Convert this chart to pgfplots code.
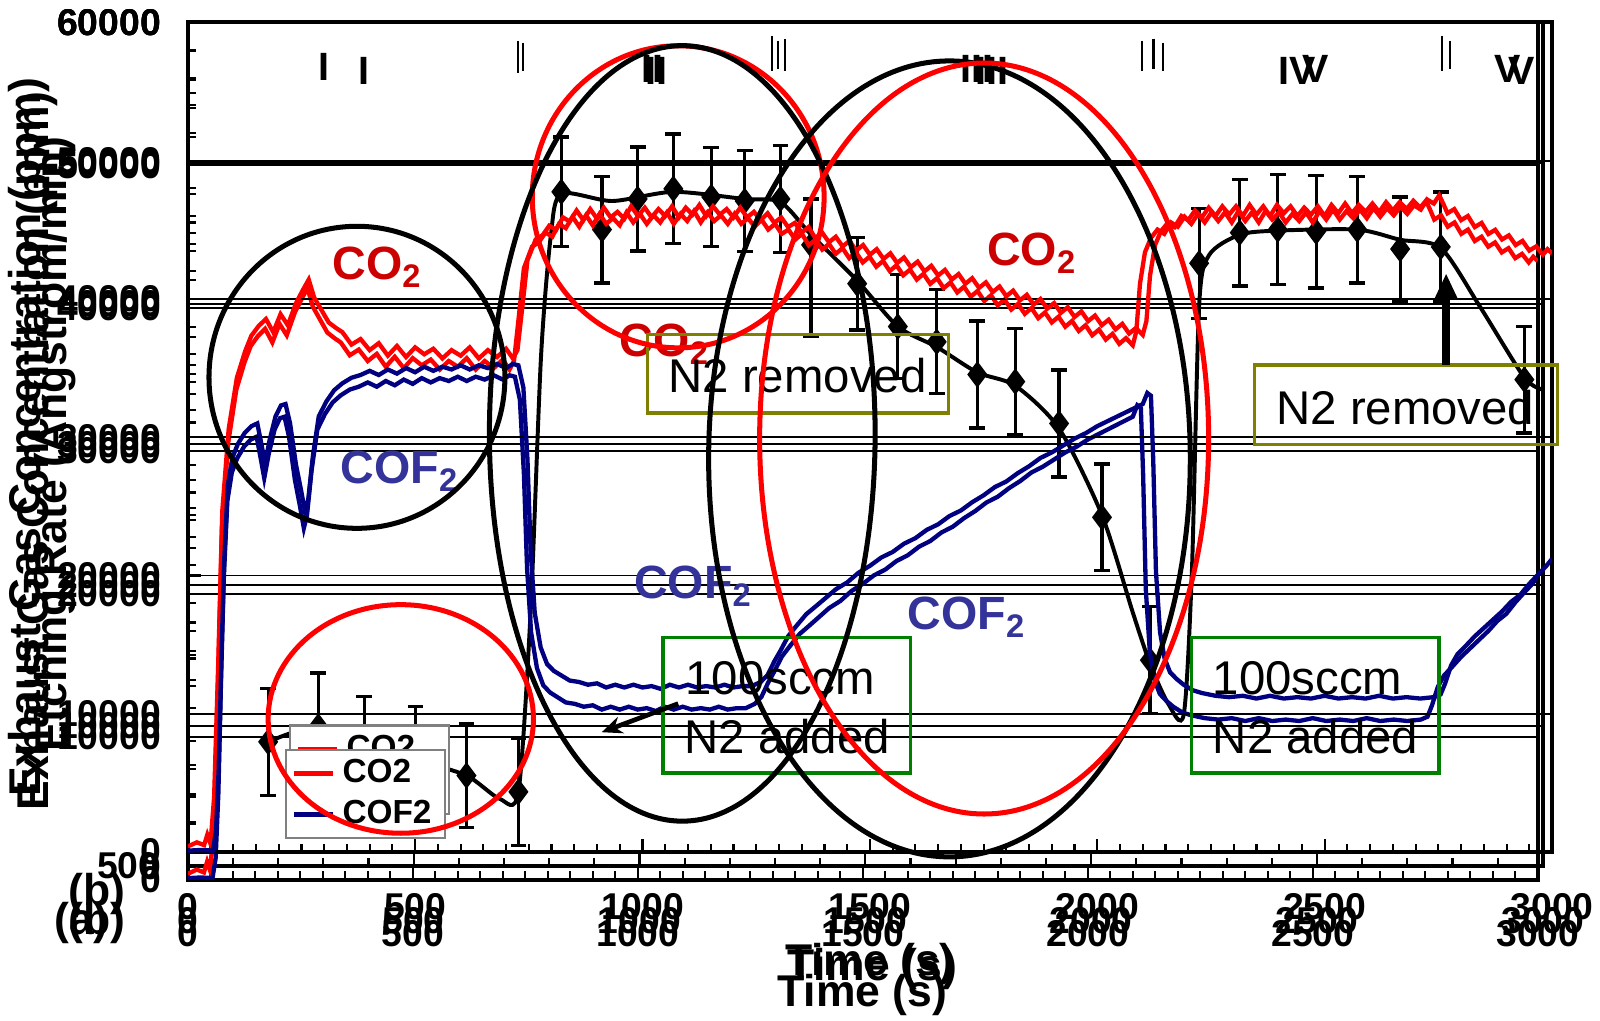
\documentclass[border=0pt]{standalone}
\usepackage{pgfplots}
\pgfplotsset{compat=1.18}
\usepackage{pgfplotstable}
\usepackage{fontspec}
\setmainfont{Liberation Sans}
\usetikzlibrary{arrows.meta}
\definecolor{cored}{HTML}{FF0000}
\definecolor{cofblue}{HTML}{000080}
\definecolor{cotext}{HTML}{CC0000}
\definecolor{coftext}{HTML}{333399}
\definecolor{boxolive}{HTML}{808000}
\definecolor{boxgreen}{HTML}{008000}

\pgfplotstableread{
t v
0 400
20 700
36 500
43 1250
50 600
58 4000
67 13600
76 24700
90 30600
108 34300
126 36200
140 37350
156 38050
172 38550
188 37600
204 38900
220 38100
238 39700
254 40700
266 41400
278 40100
294 39200
310 38300
326 37900
340 37600
360 36700
380 37100
400 36300
420 36800
440 35900
460 36600
480 35800
500 36500
520 36000
540 36400
560 35700
580 36300
600 35900
620 36500
640 35700
660 36300
680 35800
700 36400
715 35700
725 36300
736 39500
747 42800
765 44300
780 44600
795 45300
810 45000
825 45900
840 45600
855 46400
870 45700
885 46500
900 45800
915 46600
930 45900
945 46300
960 45800
975 46700
990 46000
1005 46600
1020 45900
1035 46500
1050 46000
1065 46700
1080 45900
1095 46600
1110 46100
1125 46800
1140 46000
1155 46700
1170 46100
1185 46500
1200 45900
1215 46600
1230 45900
1245 46300
1260 45700
1275 46200
1290 45500
1305 45900
1320 45200
1335 45500
1350 44800
1365 45200
1380 44400
1395 44800
1410 44100
1425 44500
1440 43800
1455 44200
1470 43500
1485 43900
1500 43200
1515 43600
1530 42900
1545 43300
1560 42600
1575 43000
1590 42300
1605 42700
1620 42000
1635 42400
1650 41700
1665 42100
1680 41400
1695 41800
1710 41100
1725 41500
1740 40800
1755 41200
1770 40500
1785 40900
1800 40200
1815 40600
1830 39900
1845 40300
1860 39600
1875 40000
1890 39300
1905 39700
1920 39000
1935 39400
1950 38700
1965 39100
1980 38400
1995 38800
2010 38100
2025 38500
2040 37800
2055 38200
2070 37500
2085 37900
2100 37400
2108 38400
2116 41700
2127 43900
2140 44900
2155 45500
2170 45200
2185 46000
2200 45700
2215 46400
2230 45900
2245 46600
2260 46000
2275 46700
2290 46100
2305 46700
2320 46000
2335 46800
2350 46100
2365 46700
2380 46000
2395 46800
2410 46200
2425 46700
2440 46000
2455 46600
2470 46100
2485 46700
2500 46000
2515 46800
2530 46200
2545 46900
2560 46200
2575 46800
2590 46300
2605 46900
2620 46300
2635 47000
2650 46400
2665 47000
2680 46500
2695 47100
2710 46600
2725 47200
2740 46900
2752 47500
2762 46800
2770 46200
2785 46500
2800 45700
2815 46000
2830 45200
2845 45500
2860 44700
2875 45000
2890 44300
2905 44600
2920 43900
2935 44200
2950 43500
2965 43800
2980 43200
2990 43600
3000 43300
}\cotwo

\pgfplotstableread{
t v
0 100
30 150
55 100
62 1500
68 6000
74 14000
80 21000
88 26500
98 28500
110 29500
125 30300
140 30800
153 31000
162 29500
170 28100
180 29800
193 31500
205 32300
215 32400
225 31000
238 28000
249 26200
258 24600
265 25500
275 28600
288 31500
305 32600
322 33400
340 33900
360 34300
380 34500
400 34800
420 34500
440 34900
460 34600
480 35000
500 34700
520 35100
540 34800
560 35100
580 34900
600 35200
620 34900
640 35200
660 35000
680 35300
700 35000
715 35300
727 35200
738 33600
747 28400
754 21800
763 17300
776 14800
790 13600
805 13100
820 12800
840 12400
860 12300
880 12100
900 12200
920 11900
940 12100
960 11900
980 12100
1000 11900
1020 12000
1040 11800
1060 12100
1080 11900
1100 12100
1120 11900
1140 12000
1160 11900
1180 12100
1200 11900
1220 12000
1240 12000
1260 12300
1275 12800
1290 13800
1304 14600
1320 15600
1337 16300
1360 17200
1382 17800
1400 18300
1425 19000
1450 19500
1475 20200
1500 20700
1525 21300
1550 21700
1575 22300
1600 22700
1625 23300
1650 23700
1675 24300
1700 24700
1725 25300
1750 25800
1775 26400
1800 26800
1825 27400
1850 27900
1875 28500
1900 28900
1925 29400
1950 29900
1975 30300
2000 30800
2025 31200
2050 31600
2075 32000
2100 32400
2110 33200
2118 33000
2123 28400
2129 20300
2138 15900
2148 14000
2160 13000
2175 12500
2190 12100
2210 11700
2230 11500
2260 11300
2290 11200
2320 11300
2350 11100
2380 11300
2410 11100
2440 11200
2470 11100
2500 11300
2530 11100
2560 11200
2590 11100
2620 11300
2650 11100
2680 11200
2710 11100
2740 11200
2755 11400
2765 12200
2778 13500
2792 14300
2810 14900
2830 15600
2850 16200
2870 16800
2890 17400
2910 18100
2930 18600
2950 19400
2970 20100
2985 20600
3000 21200
}\coftwo

\pgfplotstableread{
t v
178 8851
289 9939
391 8271
504 7545
617 6457
691 4788
732 5296
759 18065
782 36202
804 44908
827 47810
940 47303
1075 47956
1233 47448
1312 47230
1380 44908
1482 41644
1572 38379
1658 36928
1748 35114
1832 34171
1929 31124
2024 24957
2092 18065
2130 14437
2171 11535
2205 10810
2223 20967
2239 39830
2261 43457
2329 44908
2413 45198
2589 45271
2684 44546
2774 43965
2860 39830
2959 34751
3000 33900
}\etchline

\newcommand\tickfont{\fontsize{10.4}{12}\selectfont\bfseries}
\newcommand\labfont{\fontsize{12.4}{14}\selectfont\bfseries}
\newcommand\gasfont{\fontsize{13}{15}\selectfont\bfseries}
\newcommand\boxfont{\fontsize{13.2}{15}\selectfont}
\newcommand\romfont{\fontsize{11}{13}\selectfont\bfseries}

\pgfplotsset{
  common/.style={
    scale only axis,
    anchor=south west,
    xmin=0, xmax=3000, ymin=0, ymax=60000,
    axis line style={line width=1.1pt},
    xtick={0,500,...,3000},
    ytick={0,10000,...,60000},
    xtick pos=left, ytick pos=left,
    tick style={black, line width=0.6pt},
    major tick length=0.13cm, minor tick length=0.08cm,
    ymajorgrids, grid style={black, line width=0.5pt},
    scaled ticks=false,
    /pgf/number format/assume math mode=true,
    /pgf/number format/1000 sep={},
    xticklabel style={font=\tickfont, yshift=-0.28cm},
    yticklabel style={font=\tickfont, xshift=-0.14cm},
    legend image code/.code={\draw[##1, line width=1.3pt] (0cm,0cm) -- (0.38cm,0cm);},
    legend cell align=left,
  },
  ylab/.style={every axis y label/.style={at={(axis description cs:#1,0.5)}, rotate=90, anchor=center, font=\labfont}},
  xlab/.style 2 args={every axis x label/.style={at={(axis description cs:#1,#2)}, anchor=center, font=\labfont}},
  gasleg/.style={legend style={at={(#1)}, anchor=north west, draw=gray, fill=white,
      line width=0.6pt, font=\fontsize{9.3}{11}\selectfont\bfseries,
      inner xsep=0.06cm, inner ysep=0.02cm, row sep=-0.02cm}},
}

\begin{document}
\begin{tikzpicture}
\path[use as bounding box] (0,0) rectangle (15.68cm,10cm);

% axis 2: etching rate
\begin{axis}[common, at={(1.84cm,1.51cm)}, width=13.28cm, height=8.27cm,
  minor x tick num=4, minor y tick num=1,
  ylabel={Etching Rate (Angstrom/min)}, xlabel={Time (s)},
  ylab=-0.098, xlab={0.505}{-0.122}]
\addplot[black, line width=1.1pt, smooth, tension=0.45] table[x=t,y=v] {\etchline};
\addplot[black, only marks, mark=diamond*, mark size=3.4pt,
  error bars/.cd, y dir=both, y explicit,
  error bar style={line width=0.9pt, black},
  error mark options={rotate=90, mark size=2.2pt, line width=0.9pt, black}]
coordinates {
(178,8851) +- (0,3800)
(289,9939) +- (0,3800)
(391,8271) +- (0,3800)
(504,7545) +- (0,3800)
(617,6457) +- (0,3700)
(732,5296) +- (0,3800)
(827,47956) +- (0,3900)
(917,45271) +- (0,3800)
(996,47448) +- (0,3700)
(1075,48173) +- (0,3900)
(1159,47593) +- (0,3500)
(1233,47303) +- (0,3600)
(1312,47448) +- (0,3800)
(1380,44183) += (0,3265) -= (0,6530)
(1482,41426) +- (0,3300)
(1572,38379) +- (0,3700)
(1658,37291) +- (0,3700)
(1748,34969) +- (0,3800)
(1832,34461) +- (0,3800)
(1929,31487) +- (0,3800)
(2024,24812) +- (0,3800)
(2130,14655) +- (0,3800)
(2239,42877) +- (0,3900)
(2329,45054) +- (0,3800)
(2413,45271) +- (0,3900)
(2498,45126) +- (0,4000)
(2589,45271) +- (0,3800)
(2684,43893) +- (0,3700)
(2774,44038) +- (0,3900)
(2959,34606) +- (0,3800)
};
\end{axis}

% axis 3: gas concentration (second layer)
\begin{axis}[common, gasleg={0.0748,0.181}, at={(1.84cm,1.38cm)}, width=13.23cm, height=8.40cm,
  minor x tick num=9, minor y tick num=4,
  ylabel={Exhaust Gas Concentration (ppm)}, xlabel={Time (s)},
  ylab=-0.112, xlab={0.4996}{-0.135}]
\addplot[cored, line width=1.2pt] table[x=t,y=v] {\cotwo};
\addlegendentry{CO2}
\addplot[cofblue, line width=1.2pt] table[x=t,y=v] {\coftwo};
\addlegendentry{COF2}
\end{axis}

% axis 1: gas concentration (front layer)
\begin{axis}[common, gasleg={0.0711,0.1242}, at={(1.84cm,1.65cm)}, width=13.37cm, height=8.13cm,
  minor x tick num=9, minor y tick num=4,
  ylabel={Exhaust Gas Concentration (ppm)}, xlabel={Time (s)},
  ylab=-0.116, xlab={0.5}{-0.135}]
\addplot[cored, line width=1.2pt] table[x=t,y=v] {\cotwo};
\addlegendentry{CO2}
\addplot[cofblue, line width=1.2pt] table[x=t,y=v] {\coftwo};
\addlegendentry{COF2}
\end{axis}

% annotations in picture pixel units
\begin{scope}[x=0.01cm, y=-0.01cm, yshift=10cm]
\node[anchor=east, font=\tickfont, inner sep=0pt] at (157,849) {500};
\node[font=\labfont, inner sep=0pt] at (95,877) {(b)};
\node[font=\labfont, inner sep=0pt] at (80,905) {(a)};
\node[font=\labfont, inner sep=0pt] at (95,905) {(b)};
% phase labels
\node[font=\romfont, inner sep=0pt] at (318,66) {I};
\node[font=\romfont, inner sep=0pt] at (357,70) {I};
\node[font=\romfont, inner sep=0pt] at (640,68) {II};
\node[font=\romfont, inner sep=0pt] at (644,70) {II};
\node[font=\romfont, inner sep=0pt] at (958,68) {III};
\node[font=\romfont, inner sep=0pt] at (973,70) {III};
\node[font=\romfont, inner sep=0pt] at (1272,70) {IV};
\node[font=\romfont, inner sep=0pt] at (1290,68) {V};
\node[font=\romfont, inner sep=0pt] at (1478,68) {V};
\node[font=\romfont, inner sep=0pt] at (1492,70) {V};
\foreach \xx/\ya/\yb in {508/40/72, 513/42/70, 757/35/70, 763/40/68, 770/38/70, 1120/40/70, 1131/38/68, 1140/42/70, 1414/35/70, 1422/40/68}
  \draw[black, line width=0.6pt] (\xx,\ya) -- (\xx,\yb);
% gas labels
\node[text=cotext, font=\gasfont, inner sep=0pt] at (370,262) {CO\textsubscript{2}};
\node[text=cotext, font=\gasfont, inner sep=0pt] at (652,338) {CO\textsubscript{2}};
\node[text=cotext, font=\gasfont, inner sep=0pt] at (1012,248) {CO\textsubscript{2}};
\node[text=coftext, font=\gasfont, inner sep=0pt] at (392,462) {COF\textsubscript{2}};
\node[text=coftext, font=\gasfont, inner sep=0pt] at (680,575) {COF\textsubscript{2}};
\node[text=coftext, font=\gasfont, inner sep=0pt] at (948,605) {COF\textsubscript{2}};
% boxes
\draw[boxolive, line width=0.9pt] (635,328) rectangle (930,405);
\node[font=\boxfont, inner sep=0pt] at (782,368) {N2 removed};
\draw[boxolive, line width=0.9pt] (1230,358) rectangle (1527,436);
\node[font=\boxfont, inner sep=0pt] at (1378,400) {N2 removed};
\draw[boxgreen, line width=0.9pt] (650,625) rectangle (893,758);
\node[font=\boxfont, inner sep=0pt] at (765,665) {100sccm};
\node[font=\boxfont, inner sep=0pt] at (772,722) {N2 added};
\draw[boxgreen, line width=0.9pt] (1168,625) rectangle (1411,758);
\node[font=\boxfont, inner sep=0pt] at (1282,665) {100sccm};
\node[font=\boxfont, inner sep=0pt] at (1290,722) {N2 added};
% arrows
\draw[-{Stealth[length=0.2cm,width=0.17cm]}, line width=1.3pt] (665,690) -- (590,718);
\draw[-{Triangle[length=0.24cm,width=0.2cm]}, line width=2.2pt] (1418,358) -- (1418,268);
% ellipses
\draw[black, line width=1.4pt] (350,370) ellipse [x radius=1.45cm, y radius=1.48cm];
\draw[cored, line width=1.4pt] (393,705) ellipse [x radius=1.30cm, y radius=1.12cm];
\draw[cored, line width=1.4pt] (665,193) ellipse [x radius=1.43cm, y radius=1.48cm];
\draw[black, line width=1.4pt] (669,425) ellipse [x radius=1.89cm, y radius=3.80cm];
\draw[black, line width=1.4pt] (931,450) ellipse [x radius=2.36cm, y radius=3.90cm];
\draw[cored, line width=1.4pt] (965,430) ellipse [x radius=2.20cm, y radius=3.68cm];
\end{scope}
\end{tikzpicture}
\end{document}
